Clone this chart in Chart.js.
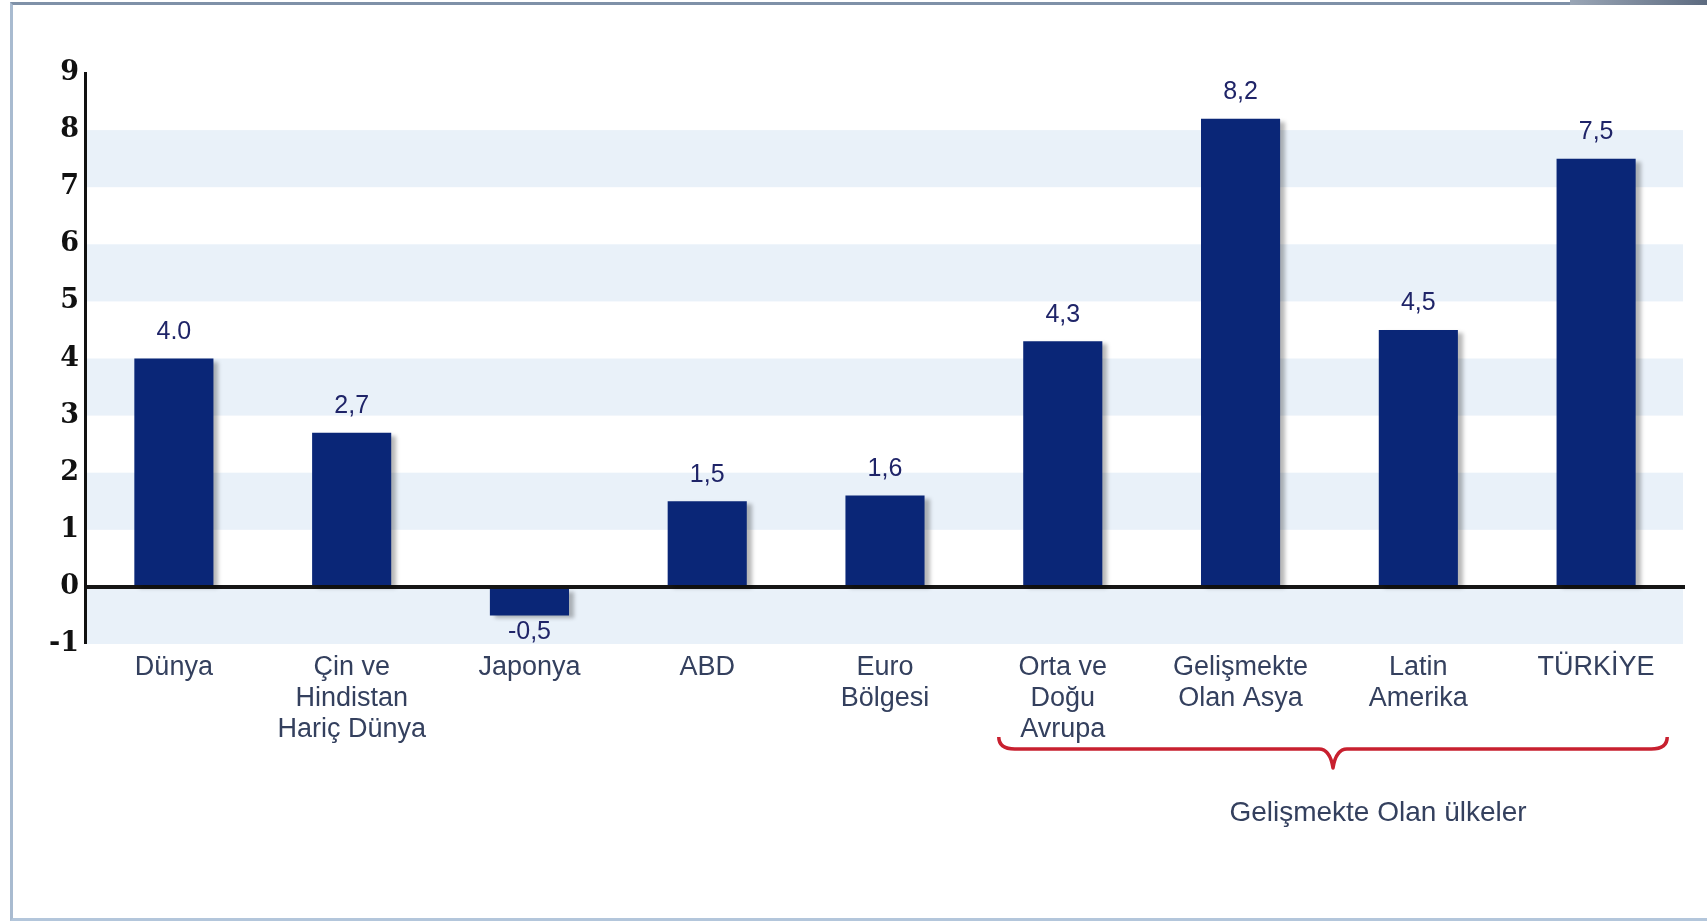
<!DOCTYPE html>
<html>
<head>
<meta charset="utf-8">
<script src="https://cdn.jsdelivr.net/npm/chart.js@4.4.1/dist/chart.umd.min.js"></script>
<style>
  body { margin: 0; background: #fff; }
  #wrap { position: relative; width: 1707px; height: 921px; overflow: hidden; }
  #frame { position: absolute; left: 10px; top: 2px; width: 1710px; height: 913px;
           border-left: 3px solid #a9bbd0; border-top: 3px solid #7f91a8; border-bottom: 3px solid #b3c6db; }
  #tab { position: absolute; left: 1570px; top: 0; width: 137px; height: 5px;
         background: linear-gradient(to right, #9aa6b6, #5d6b80); }
  canvas { position: absolute; left: 0; top: 0; }
</style>
</head>
<body>
<div id="wrap">
  <div id="frame"></div>
  <div id="tab"></div>
  <canvas id="chart" width="1707" height="921"></canvas>
</div>
<script>
const categories = [
    'Dünya',
    ['Çin ve', 'Hindistan', 'Hariç Dünya'],
    'Japonya',
    'ABD',
    ['Euro', 'Bölgesi'],
    ['Orta ve', 'Doğu', 'Avrupa'],
    ['Gelişmekte', 'Olan Asya'],
    ['Latin', 'Amerika'],
    'TÜRKİYE'
];
const growth = [4.0, 2.7, -0.5, 1.5, 1.6, 4.3, 8.2, 4.5, 7.5];
const valueLabels = ['4.0', '2,7', '-0,5', '1,5', '1,6', '4,3', '8,2', '4,5', '7,5'];
const yTicks = [-1, 0, 1, 2, 3, 4, 5, 6, 7, 8, 9];
const groupLabel = 'Gelişmekte Olan ülkeler';
const groupFrom = 5, groupTo = 8;

const bandsPlugin = {
    id: 'bands',
    beforeDraw(chart) {
        const {ctx, chartArea, scales: {y}} = chart;
        ctx.save();
        ctx.fillStyle = '#e9f1f9';
        yTicks.forEach(v => {
            if ((v + 1) % 2 === 0 && v + 1 <= y.max) {
                const top = y.getPixelForValue(v + 1);
                const bot = y.getPixelForValue(v);
                ctx.fillRect(chartArea.left, top, chartArea.right - chartArea.left - 2, bot - top);
            }
        });
        ctx.restore();
    }
};

const shadowPlugin = {
    id: 'barShadow',
    beforeDatasetDraw(chart) {
        const ctx = chart.ctx;
        ctx.save();
        ctx.shadowColor = 'rgba(0,0,0,0.28)';
        ctx.shadowOffsetX = 5;
        ctx.shadowOffsetY = 3;
        ctx.shadowBlur = 4;
    },
    afterDatasetDraw(chart) {
        chart.ctx.restore();
    }
};

const labelsPlugin = {
    id: 'valueLabels',
    afterDatasetsDraw(chart) {
        const ctx = chart.ctx;
        const meta = chart.getDatasetMeta(0);
        ctx.save();
        ctx.font = '25px "Liberation Sans", Arial, sans-serif';
        ctx.fillStyle = '#1f2468';
        ctx.textAlign = 'center';
        meta.data.forEach((bar, i) => {
            if (growth[i] >= 0) {
                ctx.textBaseline = 'bottom';
                ctx.fillText(valueLabels[i], bar.x, bar.y - 14);
            } else {
                ctx.textBaseline = 'middle';
                ctx.fillText(valueLabels[i], bar.x, bar.y + 17);
            }
        });
        ctx.restore();
    }
};

const bracePlugin = {
    id: 'brace',
    afterDraw(chart) {
        const ctx = chart.ctx;
        const x = chart.scales.x;
        const cw = x.getPixelForValue(1) - x.getPixelForValue(0);
        const x0 = x.getPixelForValue(groupFrom) - 0.36 * cw;
        const x1 = x.getPixelForValue(groupTo) + 0.40 * cw;
        const mid = (x0 + x1) / 2;
        const yTop = 737, yLine = 749, yTip = 768;
        ctx.save();
        ctx.strokeStyle = '#c8202f';
        ctx.lineWidth = 3.5;
        ctx.lineJoin = 'round';
        ctx.beginPath();
        ctx.moveTo(x0, yTop);
        ctx.quadraticCurveTo(x0, yLine, x0 + 16, yLine);
        ctx.lineTo(mid - 14, yLine);
        ctx.quadraticCurveTo(mid - 3, yLine, mid, yTip);
        ctx.quadraticCurveTo(mid + 3, yLine, mid + 14, yLine);
        ctx.lineTo(x1 - 16, yLine);
        ctx.quadraticCurveTo(x1, yLine, x1, yTop);
        ctx.stroke();
        ctx.font = '28px "Liberation Sans", Arial, sans-serif';
        ctx.fillStyle = '#34405e';
        ctx.textAlign = 'center';
        ctx.textBaseline = 'middle';
        ctx.fillText(groupLabel, mid + 45, 813);
        ctx.restore();
    }
};

const ctx = document.getElementById('chart').getContext('2d');
const myChart = new Chart(ctx, {
    type: 'bar',
    data: {
        labels: categories,
        datasets: [{
            data: growth,
            backgroundColor: '#0a2677',
            borderWidth: 0,
            barPercentage: 0.445,
            categoryPercentage: 1.0
        }]
    },
    options: {
        responsive: false,
        animation: false,
        layout: {
            padding: { left: 0, right: 22, top: 73, bottom: 0 }
        },
        scales: {
            x: {
                grid: { display: false },
                border: { display: false },
                ticks: {
                    color: '#34405e',
                    font: { family: '"Liberation Sans", Arial, sans-serif', size: 27, lineHeight: 1.15 },
                    padding: 0,
                    maxRotation: 0,
                    autoSkip: false
                },
                afterFit: (s) => { s.height = 277; }
            },
            y: {
                min: -1,
                max: 9,
                afterBuildTicks: (s) => { s.ticks = yTicks.map(v => ({ value: v })); },
                grid: {
                    drawTicks: false,
                    color: (c) => c.tick && c.tick.value === 0 ? '#151515' : 'transparent',
                    lineWidth: (c) => c.tick && c.tick.value === 0 ? 4 : 0
                },
                border: { display: true, color: '#111', width: 3 },
                ticks: {
                    color: '#111',
                    font: { family: '"DejaVu Serif", serif', size: 27, weight: 'bold' },
                    padding: 6
                },
                afterFit: (s) => { s.width = 85; }
            }
        },
        plugins: {
            legend: { display: false },
            tooltip: { enabled: false }
        }
    },
    plugins: [bandsPlugin, shadowPlugin, labelsPlugin, bracePlugin]
});
</script>
</body>
</html>
